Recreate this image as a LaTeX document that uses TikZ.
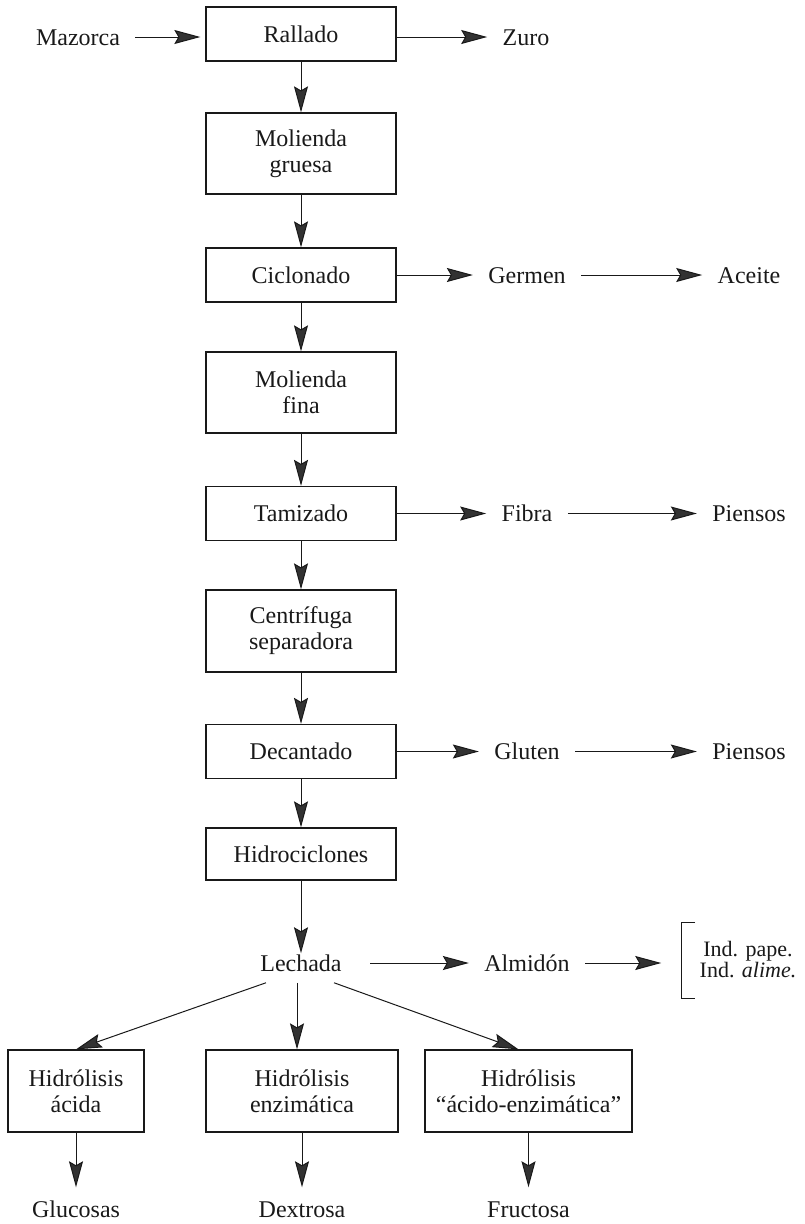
\documentclass[tikz,border=0pt]{standalone}
\usepackage{fontspec}
\setmainfont{Liberation Serif}
\usetikzlibrary{arrows.meta}
\definecolor{ink}{RGB}{25,25,25}
\definecolor{tipfill}{RGB}{50,50,50}
\tikzset{
  every picture/.style={color=ink, line width=1pt, font=\fontsize{24}{26}\selectfont},
  box/.style={draw=ink, line width=1.3pt, fill=white, inner sep=4pt, minimum width=190pt, align=center},
  lbl/.style={inner xsep=15pt, inner ysep=3pt, text height=16.5pt, text depth=0pt},
  flow/.style={-{Stealth[length=26pt,width=14pt,inset=4pt,fill=tipfill]}, line width=1pt},
  bracketlbl/.style={font=\fontsize{22}{21}\selectfont, align=center, inner xsep=18pt, minimum height=75pt},
}

\begin{document}
\begin{tikzpicture}[x=1pt, y=-1pt]
  % Main column of the wet milling line, one box per stage; side products
  % leave to the right, the starch slurry splits into three hydrolyses.
  \useasboundingbox (0,0) rectangle (805,1224);
  \foreach \n/\t/\y/\h in {ral/Rallado/34/54, mgr/{Molienda\\ gruesa}/153.5/81, cic/Ciclonado/275/54, mfi/{Molienda\\ fina}/392.5/81, tam/Tamizado/513.5/54, cen/{Centrífuga\\ separadora}/631/82, dec/Decantado/751.5/54, hid/Hidrociclones/854/52}
    { \node[box, minimum height=\h pt] (\n) at (301,\y) {\t}; }
  \foreach \a/\b in {ral/mgr, mgr/cic, cic/mfi, mfi/tam, tam/cen, cen/dec, dec/hid}
    { \draw[flow] (\a) -- (\b); }
  \node[lbl] (maz) at (78,37) {Mazorca};
  \node[lbl] (zur) at (526,37) {Zuro};
  \draw[flow, shorten >=5pt] (maz) -- (maz -| ral.west);
  \draw[flow] (ral.east |- zur) -- (zur);
  \foreach \sa/\sb/\sc/\yy/\ta/\tb in {cic/ger/ace/275/Germen/Aceite, tam/fib/pia/513.5/Fibra/Piensos, dec/glt/pib/751.5/Gluten/Piensos}
    { \node[lbl] (\sb) at (527,\yy) {\ta}; \node[lbl] (\sc) at (749,\yy) {\tb}; \draw[flow] (\sa) -- (\sb); \draw[flow] (\sb) -- (\sc); }
  % slurry and starch
  \node[lbl, inner ysep=11pt] (lech) at (301,963) {Lechada};
  \node[lbl] (alm) at (527,963) {Almidón};
  \node[bracketlbl] (ind) at (748,960) {Ind. pape.\\ Ind. \textit{alime.}};
  \draw (ind.north west) ++(14,0) -- (ind.north west) -- (ind.south west) -- ++(14,0);
  \draw[flow, shorten >=-10pt] (hid) -- (lech);
  \draw[flow, shorten <=13pt] (lech) -- (alm);
  \draw[flow, shorten >=20pt] (alm) -- (alm -| ind.west);
  % hydrolyses and their sugars
  \foreach \n/\t/\x/\w in {hac/{Hidrólisis\\ ácida}/76/136, hen/{Hidrólisis\\ enzimática}/302/192, hae/{Hidrólisis\\ “ácido-enzimática”}/528.5/207}
    { \node[box, minimum width=\w pt, minimum height=82pt] (\n) at (\x,1091) {\t}; }
  \draw[flow] ([xshift=-35pt]lech.south) -- (hac.north);
  \draw[flow] ([xshift=-4pt]lech.south) -- ([xshift=-5pt]hen.north);
  \draw[flow] ([xshift=33pt]lech.south) -- ([xshift=-10pt]hae.north);
  \foreach \n/\t/\x/\b in {glc/Glucosas/76/hac, dxt/Dextrosa/302/hen, frc/Fructosa/528.5/hae}
    { \node[lbl, inner ysep=13pt] (\n) at (\x,1209) {\t}; \draw[flow] (\b) -- (\n); }
\end{tikzpicture}
\end{document}
